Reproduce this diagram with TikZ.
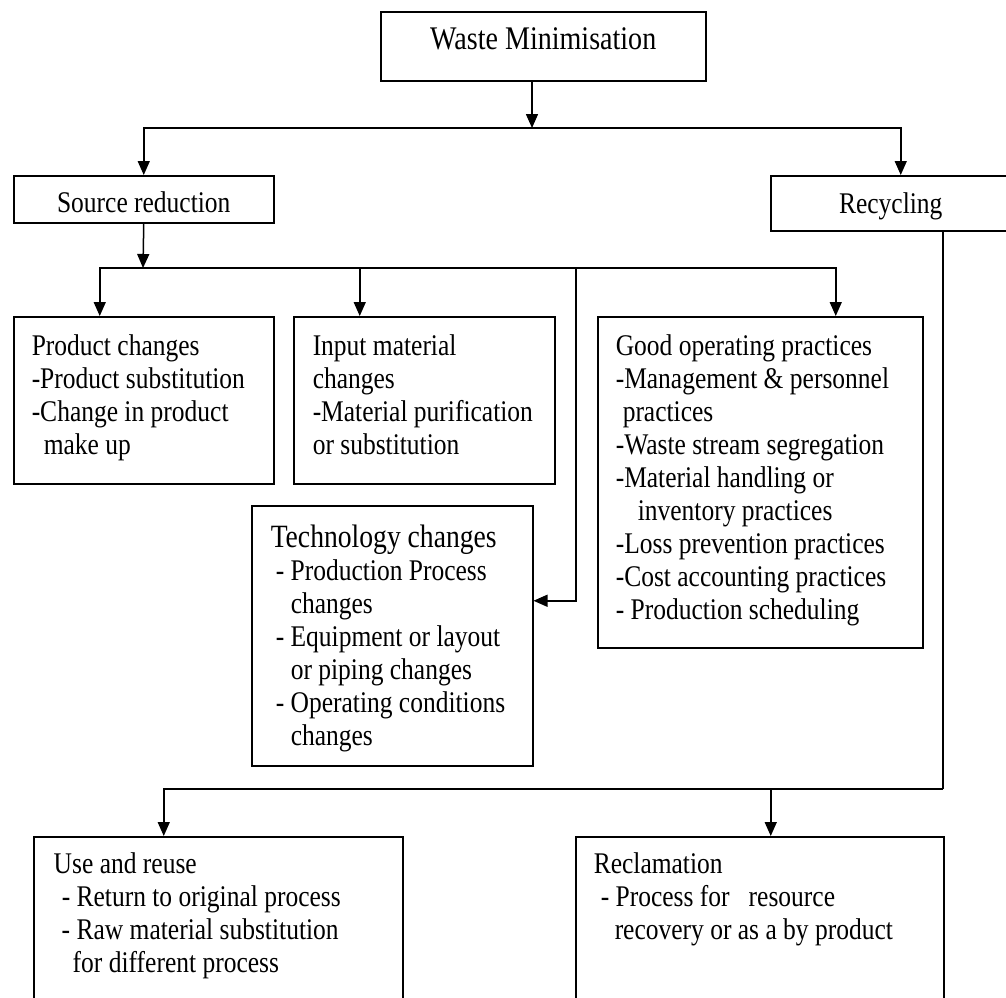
\documentclass[tikz,border=0pt]{standalone}
\usepackage{fontspec}
\setmainfont{Liberation Serif}[FakeStretch=0.85]
\usetikzlibrary{arrows.meta}
% width, height, top gap, left indent, lines
\newcommand\tbox[5]{\parbox[c][#2pt][t]{#1pt}{\vspace*{#3pt}\noindent\hspace*{#4pt}\begin{tabular}[t]{@{}l@{}}#5\end{tabular}}}
% width, height, top gap, text
\newcommand\cbox[4]{\parbox[c][#2pt][t]{#1pt}{\vspace*{#3pt}\centering\begin{tabular}[t]{@{}c@{}}#4\end{tabular}}}
\begin{document}
\begin{tikzpicture}[x=1pt,y=-1pt,
  box/.style={draw, line width=1.5pt, inner sep=0pt, anchor=north west, font=\fontsize{30}{33}\selectfont},
  ln/.style={line width=1.5pt},
  arr/.style={line width=1.5pt, -{Triangle[length=14pt,width=12pt]}}]
\useasboundingbox (0,0) rectangle (1006,997);
\clip (0,0) rectangle (1006,997);
\fill[white] (0,0) rectangle (1006,997);

\node[box, font=\fontsize{33}{33}\selectfont] (WM) at (380,11) {\cbox{325}{69}{14.4}{Waste Minimisation}};
\node[box] (SR) at (13,175) {\cbox{260}{47}{13.9}{Source reduction}};
\node[box] (RC) at (770,175) {\cbox{240}{55}{14.9}{Recycling}};

\node[box] (PC) at (13,316) {\tbox{260}{167}{15.9}{18}{Product changes\\-Product substitution\\-Change in product\\\hspace*{12pt}make up}};
\node[box] (IM) at (293,316) {\tbox{261}{167}{15.9}{19}{Input material\\changes\\-Material purification\\or substitution}};
\node[box] (GP) at (597,316) {\tbox{325}{331}{15.9}{18}{Good operating practices\\-Management \& personnel\\\hspace*{7pt}practices\\-Waste stream segregation\\-Material handling or\\\hspace*{22pt}inventory practices\\-Loss prevention practices\\-Cost accounting practices\\- Production scheduling}};
\node[box] (TC) at (251,505) {\tbox{281}{260}{18.9}{19}{{\fontsize{32.5}{33}\selectfont Technology changes}\\\hspace*{5pt}- Production Process\\\hspace*{20pt}changes\\\hspace*{5pt}- Equipment or layout\\\hspace*{20pt}or piping changes\\\hspace*{5pt}- Operating conditions\\\hspace*{20pt}changes}};

\node[box] (UR) at (33,836) {\tbox{369}{180}{13.9}{20}{Use and reuse\\\hspace*{8pt}- Return to original process\\\hspace*{8pt}- Raw material substitution\\\hspace*{19pt}for different process}};
\node[box] (RM) at (575,836) {\tbox{368}{180}{13.9}{18}{Reclamation\\\hspace*{7pt}- Process for~~ resource\\\hspace*{21pt}recovery or as a by product}};

\coordinate (a1) at (532,128);
\coordinate (a2) at (143,268);
\coordinate (a4) at (576,268);
\coordinate (a3) at (943,789);

\draw[arr] (WM.south -| a1) -- (a1);
\draw[arr] (a1) -| (SR.north);
\draw[arr] (a1) -| ([xshift=10pt]RC.north);

\draw[arr] (SR.south) -- (a2);
\draw[arr] (a2) -| ([xshift=-44pt]PC.north);
\draw[arr] (a2) -| ([xshift=75.5pt]GP.north);
\draw[arr] ([xshift=-64.5pt]IM.north |- a2) -- ([xshift=-64.5pt]IM.north);
\draw[arr] (a4) |- ([yshift=35pt]TC.east);

\draw[ln] (RC.south -| a3) -- (a3);
\draw[arr] (a3) -| ([xshift=-54.5pt]UR.north);
\draw[arr] ([xshift=11pt]RM.north |- a3) -- ([xshift=11pt]RM.north);
\end{tikzpicture}
\end{document}
